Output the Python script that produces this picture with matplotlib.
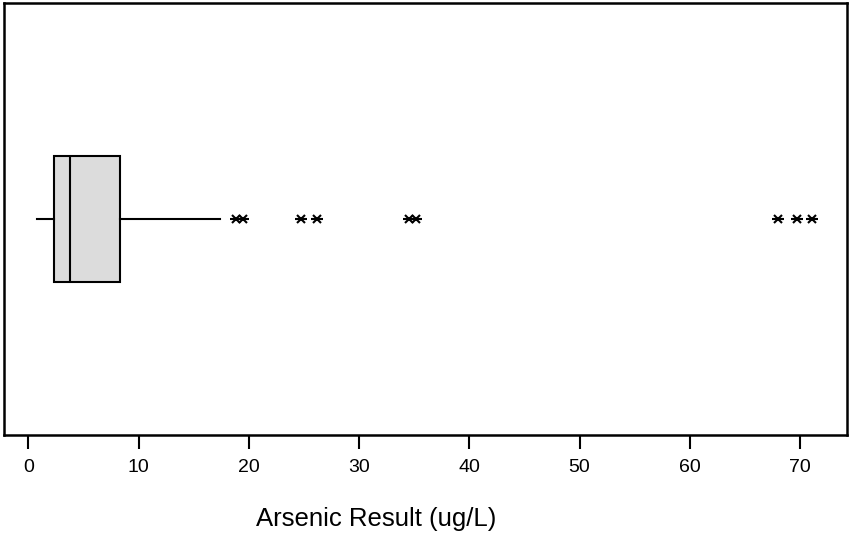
import matplotlib
matplotlib.use("Agg")
import matplotlib.pyplot as plt

# Data
whisker_low = 0.8
q1 = 2.35
median = 3.8
q3 = 8.3
whisker_high = 17.4
outliers = [18.8, 19.5, 24.7, 26.2, 34.5, 35.2, 68.0, 69.7, 71.1]
x_ticks = [0, 10, 20, 30, 40, 50, 60, 70]
x_label = "Arsenic Result (ug/L)"

plt.rcParams['font.family'] = ['Liberation Sans', 'DejaVu Sans']

fig = plt.figure(figsize=(8.49, 5.33), dpi=100)
ax = fig.add_axes([4/849, 98/533, 843/849, 432/533])

stats = [dict(whislo=whisker_low, q1=q1, med=median, q3=q3,
              whishi=whisker_high, fliers=[], label="")]
ax.bxp(stats, positions=[1], widths=0.58, vert=False, patch_artist=True,
       showfliers=False, showcaps=False,
       boxprops=dict(facecolor="#DCDCDC", edgecolor="black", linewidth=1.5),
       medianprops=dict(color="black", linewidth=1.5),
       whiskerprops=dict(color="black", linewidth=1.5))

ax.plot(outliers, [1]*len(outliers), linestyle="none", marker="x",
        markersize=6, markeredgewidth=1.5, color="black")
ax.plot(outliers, [1]*len(outliers), linestyle="none", marker="_",
        markersize=9, markeredgewidth=1.5, color="black")

ax.set_ylim(0, 2)
ax.set_xlim(-2.2, 74.25)
ax.set_yticks([])
ax.set_xticks(x_ticks)
ax.set_xticklabels([str(t) for t in x_ticks], fontsize=14)
ax.tick_params(axis="x", direction="out", length=10, width=1.5, pad=7)
for s in ax.spines.values():
    s.set_linewidth(1.8)

fig.text(376/849, 1 - 519/533, x_label, ha="center", va="center", fontsize=18.5)

fig.savefig("out.png", dpi=100)
